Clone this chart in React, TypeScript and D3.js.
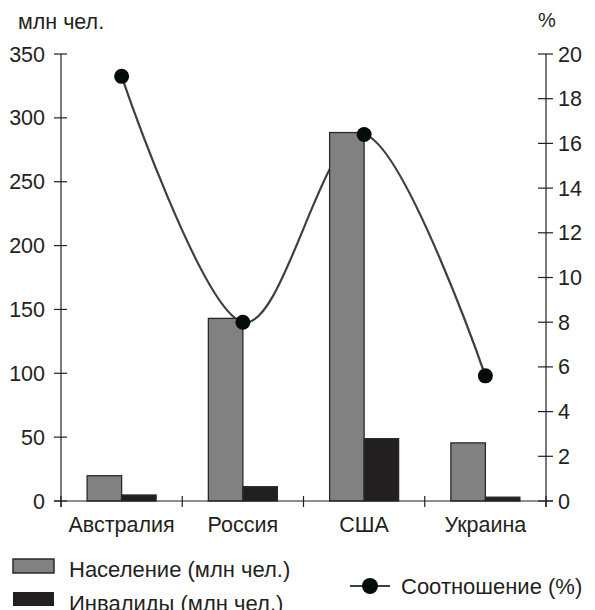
import React from "react";
import * as d3 from "d3";

const categories = ["Австралия", "Россия", "США", "Украина"];
const population = [19.8, 143, 288.5, 45.5];
const disabled = [4.7, 11.2, 48.8, 3];
const ratio = [19.0, 8.0, 16.4, 5.6];
const leftTicks = [0, 50, 100, 150, 200, 250, 300, 350];
const rightTicks = [0, 2, 4, 6, 8, 10, 12, 14, 16, 18, 20];
const seriesNames = ["Население (млн чел.)", "Инвалиды (млн чел.)"];
const lineName = "Соотношение (%)";
const leftTitle = "млн чел.";
const rightTitle = "%";

const W = 595;
const H = 610;
const X0 = 61;
const X1 = 546;
const Y0 = 501;
const Y1 = 54;
const FONT = "'Liberation Sans', Arial, Helvetica, sans-serif";
const AXIS = "#231f20";
const GREY = "#818184";
const BLACK = "#231f20";
const LINE = "#3a413e";
const DOT = "#050d0b";

export default function App() {
  const x = d3.scaleBand<string>().domain(categories).range([X0, X1]).paddingInner(0).paddingOuter(0);
  const inner = d3
    .scaleBand<number>()
    .domain([0, 1])
    .range([0, x.bandwidth()])
    .paddingInner(0)
    .paddingOuter(0.757);
  const yL = d3.scaleLinear().domain([0, 350]).range([Y0, Y1]);
  const yR = d3.scaleLinear().domain([0, 20]).range([Y0, Y1]);

  const pts: [number, number][] = categories.map((c, i) => [
    (x(c) as number) + x.bandwidth() / 2,
    yR(ratio[i]),
  ]);
  const linePath = d3.line().curve(d3.curveCardinal.tension(0))(pts) || "";

  const seriesVals = [population, disabled];
  const fills = [GREY, BLACK];

  const catBounds = categories.map((c) => x(c) as number).concat([X1]);

  return (
    <svg
      width={W}
      height={H}
      style={{ position: "absolute", left: 0, top: 0, background: "#fff" }}
      fontFamily={FONT}
    >
      <rect x={0} y={0} width={W} height={H} fill="#fff" />
      {/* titles */}
      <text x={18} y={29} fontSize={21.5} fill={AXIS}>
        {leftTitle}
      </text>
      <text x={538} y={27} fontSize={20} fill={AXIS}>
        {rightTitle}
      </text>

      {/* smoothed line behind bars */}
      <path d={linePath} fill="none" stroke={LINE} strokeWidth={2.2} />

      {/* bars */}
      {seriesVals.map((vals, s) =>
        categories.map((c, i) => {
          const bx = (x(c) as number) + (inner(s) as number);
          const by = yL(vals[i]);
          return (
            <rect
              key={`${s}-${i}`}
              x={bx}
              y={by}
              width={inner.bandwidth()}
              height={Y0 - by}
              fill={fills[s]}
              stroke="#2a2a2a"
              strokeWidth={1.3}
            />
          );
        })
      )}

      {/* dots */}
      {pts.map((p, i) => (
        <circle key={i} cx={p[0]} cy={p[1]} r={7.5} fill={DOT} />
      ))}

      {/* left axis */}
      <line x1={X0} x2={X0} y1={Y1} y2={Y0 + 6} stroke={AXIS} strokeWidth={1.2} />
      {leftTicks.map((t) => (
        <g key={t}>
          <line x1={X0 - 7} x2={X0 + 6} y1={yL(t)} y2={yL(t)} stroke={AXIS} strokeWidth={1.2} />
          <text x={45} y={yL(t) + 7.5} fontSize={21.5} textAnchor="end" fill={AXIS}>
            {t}
          </text>
        </g>
      ))}

      {/* right axis */}
      <line x1={X1} x2={X1} y1={Y1} y2={Y0 + 6} stroke={AXIS} strokeWidth={1.2} />
      {rightTicks.map((t) => (
        <g key={t}>
          <line x1={X1 - 8} x2={X1 + 7} y1={yR(t)} y2={yR(t)} stroke={AXIS} strokeWidth={1.2} />
          <text x={558} y={yR(t) + 7.5} fontSize={21.5} textAnchor="start" fill={AXIS}>
            {t}
          </text>
        </g>
      ))}

      {/* bottom axis */}
      <line x1={X0 - 7} x2={X1 + 7} y1={Y0} y2={Y0} stroke={AXIS} strokeWidth={1.2} />
      {catBounds.map((b, i) => (
        <line key={i} x1={b} x2={b} y1={Y0 - 5} y2={Y0 + 6} stroke={AXIS} strokeWidth={1.2} />
      ))}
      {categories.map((c) => (
        <text
          key={c}
          x={(x(c) as number) + x.bandwidth() / 2}
          y={532}
          fontSize={21.5}
          textAnchor="middle"
          fill={AXIS}
        >
          {c}
        </text>
      ))}

      {/* legend */}
      <rect x={13} y={559} width={41} height={14} fill={GREY} stroke="#2a2a2a" strokeWidth={1.5} />
      <text x={69} y={577} fontSize={22} fill={AXIS}>
        {seriesNames[0]}
      </text>
      <rect x={13} y={592} width={41} height={14} fill={BLACK} />
      <text x={69} y={611} fontSize={22} fill={AXIS}>
        {seriesNames[1]}
      </text>

      <line x1={350} x2={390} y1={586} y2={586} stroke={LINE} strokeWidth={2} />
      <circle cx={370} cy={586} r={8} fill={DOT} />
      <text x={401} y={594} fontSize={22} fill={AXIS}>
        {lineName}
      </text>
    </svg>
  );
}
